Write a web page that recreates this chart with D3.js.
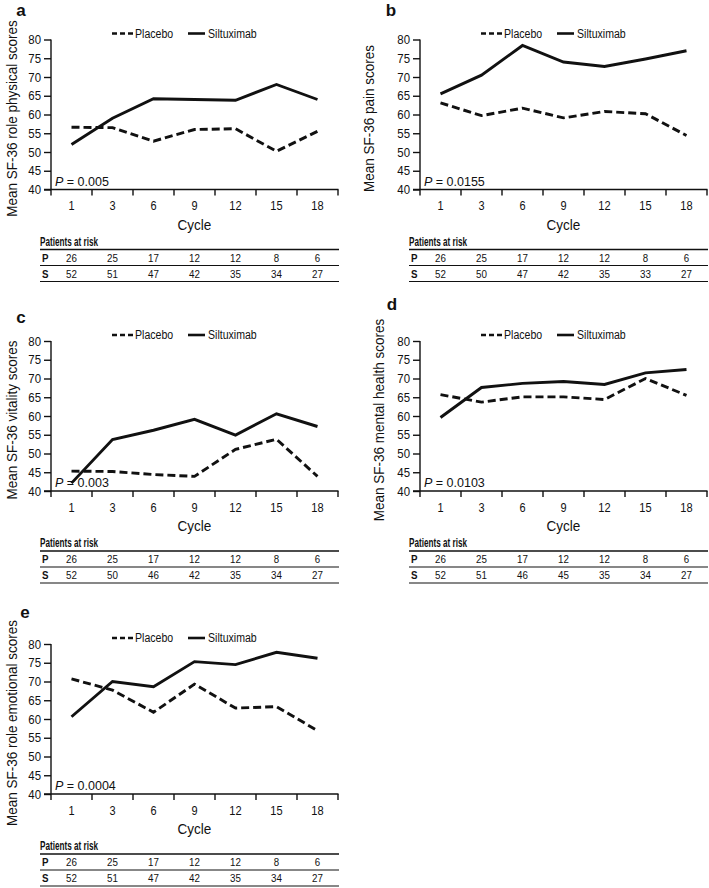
<!DOCTYPE html>
<html>
<head>
<meta charset="utf-8">
<script src="https://cdn.jsdelivr.net/npm/d3@7"></script>
<style>
  html, body { margin: 0; padding: 0; background: #fff; }
  svg { display: block; }
  text { font-family: 'Liberation Sans', Arial, 'Noto Sans', sans-serif; fill: #111; }
  .letter { font-weight: bold; }
</style>
</head>
<body>
<script>
// ---- data ----
const cycles = ["1", "3", "6", "9", "12", "15", "18"];
const yTicks = [40, 45, 50, 55, 60, 65, 70, 75, 80];
const panelLetters = ["a", "b", "c", "d", "e"];
const yTitles = [
  "Mean SF-36 role physical scores",
  "Mean SF-36 pain scores",
  "Mean SF-36 vitality scores",
  "Mean SF-36 mental health scores",
  "Mean SF-36 role emotional scores"
];
const pValues = ["0.005", "0.0155", "0.003", "0.0103", "0.0004"];
const seriesNames = ["Placebo", "Siltuximab"];

const placeboA = [56.6, 56.5, 52.9, 56.0, 56.2, 50.2, 55.5];
const siltA    = [52.0, 59.0, 64.2, 64.0, 63.8, 68.0, 64.0];
const placeboB = [63.1, 59.7, 61.7, 59.1, 60.8, 60.2, 54.4];
const siltB    = [65.5, 70.5, 78.4, 74.0, 72.8, 74.8, 77.0];
const placeboC = [45.3, 45.2, 44.4, 43.9, 51.1, 53.8, 43.9];
const siltC    = [42.1, 53.7, 56.2, 59.1, 54.9, 60.6, 57.2];
const placeboD = [65.7, 63.7, 65.1, 65.1, 64.4, 70.0, 65.5];
const siltD    = [59.6, 67.6, 68.7, 69.2, 68.4, 71.5, 72.4];
const placeboE = [70.7, 67.7, 61.8, 69.3, 62.9, 63.3, 56.9];
const siltE    = [60.6, 70.0, 68.6, 75.3, 74.5, 77.8, 76.2];

const riskTitle = "Patients at risk";
const riskRowLabels = ["P", "S"];
const riskP  = [26, 25, 17, 12, 12, 8, 6];
const riskSA = [52, 51, 47, 42, 35, 34, 27];
const riskSB = [52, 50, 47, 42, 35, 33, 27];
const riskSC = [52, 50, 46, 42, 35, 34, 27];
const riskSD = [52, 51, 46, 45, 35, 34, 27];
const riskSE = [52, 51, 47, 42, 35, 34, 27];

// ---- layout ----
const W = 709, H = 888;
const plotW = 287, plotH = 150;
const layout = [
  { x0: 51,  top: 39.5, letter: [-30, -29], titleDx: -39 },
  { x0: 420, top: 39.5, letter: [-29, -29], titleDx: -51 },
  { x0: 51,  top: 341,  letter: [-30, -24], titleDx: -39 },
  { x0: 420, top: 341,  letter: [-28, -37], titleDx: -41 },
  { x0: 51,  top: 644,  letter: [-26, -32], titleDx: -39 }
];
const placebos = [placeboA, placeboB, placeboC, placeboD, placeboE];
const silts = [siltA, siltB, siltC, siltD, siltE];
const risksS = [riskSA, riskSB, riskSC, riskSD, riskSE];
const INK = "#111";

const svg = d3.select("body").append("svg").attr("width", W).attr("height", H);
svg.append("rect").attr("width", W).attr("height", H).attr("fill", "#fff");

layout.forEach((L, i) => {
  const g = svg.append("g").attr("transform", `translate(${L.x0},${L.top})`);
  const x = d3.scaleBand().domain(cycles).range([0, plotW]);
  const y = d3.scaleLinear().domain([40, 80]).range([plotH, 0]);

  // y axis
  const ya = g.append("g").call(d3.axisLeft(y).tickValues(yTicks).tickSize(7).tickPadding(3));
  ya.select(".domain").attr("stroke", INK).attr("stroke-width", 1.4).attr("d", `M0,${plotH}V0`);
  ya.selectAll(".tick line").attr("stroke", INK).attr("stroke-width", 1.4);
  ya.selectAll(".tick text").attr("font-size", 13).attr("fill", INK)
    .style("font-family", "'Liberation Sans', Arial, sans-serif").attr("data-cond", 0.88);

  // x axis: ticks at band boundaries
  const xa = g.append("g").attr("transform", `translate(0,${plotH})`);
  xa.append("line").attr("x1", -7).attr("x2", plotW + 0.5).attr("y1", 0).attr("y2", 0)
    .attr("stroke", INK).attr("stroke-width", 1.4);
  const bounds = cycles.map(c => x(c)).concat([plotW]);
  xa.selectAll("line.tk").data(bounds).enter().append("line").attr("class", "tk")
    .attr("x1", d => d).attr("x2", d => d).attr("y1", 0).attr("y2", 6)
    .attr("stroke", INK).attr("stroke-width", 1.4);
  xa.selectAll("text.tl").data(cycles).enter().append("text").attr("class", "tl")
    .attr("x", d => x(d) + x.bandwidth() / 2).attr("y", 20.5)
    .attr("text-anchor", "middle").attr("font-size", 13).attr("data-cond", 0.85).text(d => d);
  xa.append("text").attr("x", plotW / 2).attr("y", 40).attr("text-anchor", "middle")
    .attr("font-size", 15).attr("data-cond", 0.9).text("Cycle");

  // y title (condensed via horizontal scale along the text direction)
  g.append("text").attr("transform", `translate(${L.titleDx},${plotH / 2 + 4}) rotate(-90) scale(0.9,1)`)
    .attr("text-anchor", "middle").attr("dy", "0.35em").attr("font-size", 15)
    .text(yTitles[i]);

  // letter
  g.append("text").attr("class", "letter").attr("x", L.letter[0]).attr("y", L.letter[1])
    .attr("dy", "0.35em").attr("text-anchor", "middle").attr("font-size", 17).text(panelLetters[i]);

  // legend
  const lg = g.append("g").attr("transform", `translate(0,-6)`);
  lg.append("line").attr("x1", 61).attr("x2", 82).attr("y1", 0).attr("y2", 0)
    .attr("stroke", INK).attr("stroke-width", 2.6).attr("stroke-dasharray", "5,3");
  lg.append("text").attr("x", 84).attr("y", 0).attr("dy", "0.36em").attr("font-size", 12)
    .attr("data-cond", 0.88).text(seriesNames[0]);
  lg.append("line").attr("x1", 137).attr("x2", 154).attr("y1", 0).attr("y2", 0)
    .attr("stroke", INK).attr("stroke-width", 2.6);
  lg.append("text").attr("x", 157).attr("y", 0).attr("dy", "0.36em").attr("font-size", 12)
    .attr("data-cond", 0.88).text(seriesNames[1]);

  // lines
  const line = d3.line().x((d, j) => x(cycles[j]) + x.bandwidth() / 2).y(d => y(d));
  g.append("path").datum(placebos[i]).attr("d", line).attr("fill", "none")
    .attr("stroke", INK).attr("stroke-width", 2.9).attr("stroke-dasharray", "8,4");
  g.append("path").datum(silts[i]).attr("d", line).attr("fill", "none")
    .attr("stroke", INK).attr("stroke-width", 2.9);

  // P value
  const pt = g.append("text").attr("x", 4).attr("y", plotH - 4).attr("font-size", 12.5);
  pt.append("tspan").attr("font-style", "italic").text("P");
  pt.append("tspan").text(" = " + pValues[i]);

  // risk table
  const tg = g.append("g").attr("transform", `translate(0,${plotH})`);
  const tl = -11, tr = plotW + 1;
  tg.append("text").attr("x", tl).attr("y", 56).attr("font-size", 12).attr("font-weight", "bold")
    .attr("data-len", 58).text(riskTitle);
  [[60, 1.6], [76, 1.2], [92, 1.2]].forEach(([yy, sw]) => {
    tg.append("line").attr("x1", tl).attr("x2", tr).attr("y1", yy).attr("y2", yy)
      .attr("stroke", INK).attr("stroke-width", sw);
  });
  const rows = [riskP, risksS[i]];
  rows.forEach((vals, r) => {
    const cy = 68 + r * 16;
    tg.append("text").attr("x", tl + 2).attr("y", cy).attr("dy", "0.36em")
      .attr("font-size", 11.5).attr("font-weight", "bold").attr("data-cond", 0.85).text(riskRowLabels[r]);
    tg.selectAll(null).data(vals).enter().append("text")
      .attr("x", (d, j) => x(cycles[j]) + x.bandwidth() / 2).attr("y", cy).attr("dy", "0.36em")
      .attr("text-anchor", "middle").attr("font-size", 11.5).attr("data-cond", 0.85).text(d => d);
  });
});

// condense text to mimic narrow typeface
svg.selectAll("text[data-cond]").each(function () {
  const f = +this.getAttribute("data-cond");
  const w = this.getComputedTextLength();
  this.setAttribute("textLength", (w * f).toFixed(1));
  this.setAttribute("lengthAdjust", "spacingAndGlyphs");
});
svg.selectAll("text[data-len]").each(function () {
  this.setAttribute("textLength", this.getAttribute("data-len"));
  this.setAttribute("lengthAdjust", "spacingAndGlyphs");
});
</script>
</body>
</html>
